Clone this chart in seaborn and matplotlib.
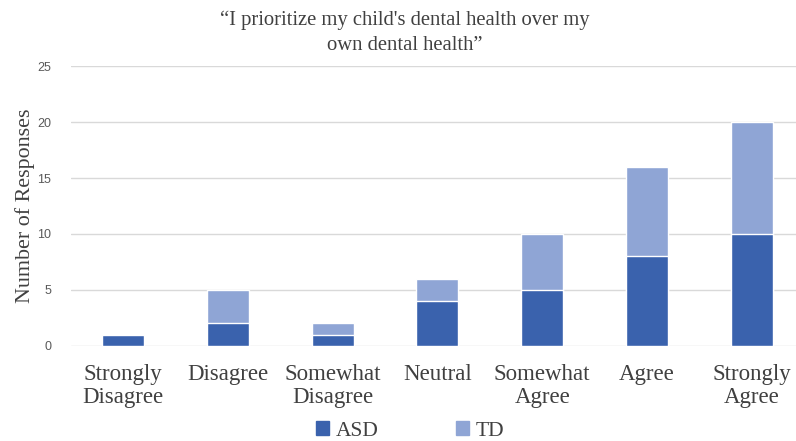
import pandas as pd
import seaborn as sns
import matplotlib.pyplot as plt
from matplotlib.patches import Patch

categories = ["Strongly\nDisagree", "Disagree", "Somewhat\nDisagree", "Neutral",
              "Somewhat\nAgree", "Agree", "Strongly\nAgree"]
asd = [1, 2, 1, 4, 5, 8, 10]
td = [0, 3, 1, 2, 5, 8, 10]

asd_color = "#3A62AD"
td_color = "#8FA5D5"

df = pd.DataFrame({"category": categories, "ASD": asd, "TD": td})
df["total"] = df["ASD"] + df["TD"]

sns.set_style("white")
serif = ["Liberation Serif", "DejaVu Serif"]

fig = plt.figure(figsize=(7.96, 4.41), dpi=100)
ax = fig.add_axes([70.6 / 796, 95.3 / 441, 733.6 / 796, 279.3 / 441])

# stacked: total first (TD colour), then ASD over it
sns.barplot(data=df, x="category", y="total", color=td_color, width=0.4,
            saturation=1, ax=ax)
sns.barplot(data=df, x="category", y="ASD", color=asd_color, width=0.4,
            saturation=1, ax=ax)

ax.set_ylim(0, 25)
ax.set_yticks([0, 5, 10, 15, 20, 25])
ax.yaxis.grid(True, color="#D9D9D9", linewidth=1)
ax.set_axisbelow(True)
for s in ax.spines.values():
    s.set_visible(False)
ax.tick_params(axis="both", length=0)
ax.tick_params(axis="y", labelsize=9, labelcolor="#595959", pad=14)
ax.tick_params(axis="x", pad=13)
for lab in ax.get_xticklabels():
    lab.set_family(serif)
    lab.set_fontsize(16.5)
    lab.set_color("#404040")
    lab.set_linespacing(1.12)
for lab in ax.get_yticklabels():
    lab.set_family(["Liberation Sans", "DejaVu Sans"])

ax.set_xlabel("")
ax.set_ylabel("Number of Responses", family=serif, fontsize=15.8, color="#404040",
              labelpad=1.5)
fig.text(405 / 796, 1 - 33 / 441,
         "\u201cI prioritize my child's dental health over my\nown dental health\u201d",
         family=serif, fontsize=14.9, color="#404040", ha="center", va="center",
         linespacing=1.45)

handles = [Patch(color=asd_color, label="ASD"), Patch(color=td_color, label="TD")]
fig.legend(handles=handles, loc="lower center", bbox_to_anchor=(0.515, -0.043),
           ncol=2, frameon=False, prop={"family": serif, "size": 15.5},
           handlelength=0.6, handleheight=0.6, handletextpad=0.3,
           columnspacing=3.6, labelcolor="#404040")

fig.savefig("out.png", dpi=100)
